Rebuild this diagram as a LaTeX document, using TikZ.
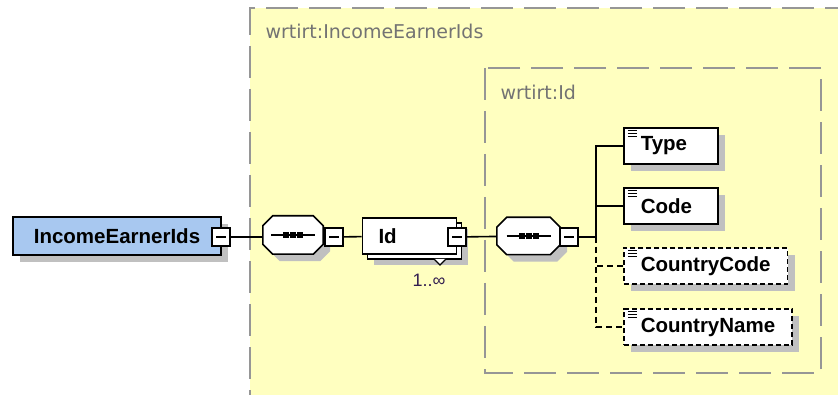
\documentclass[tikz,border=0pt]{standalone}
\usepackage{fontspec}
\setmainfont{Liberation Sans}
\newfontfamily\labelfont{DejaVu Sans}
\usetikzlibrary{shadows}

\definecolor{contfill}{RGB}{255,255,192}
\definecolor{contline}{RGB}{150,150,150}
\definecolor{rootblue}{RGB}{168,200,240}
\definecolor{shadowgray}{RGB}{192,192,192}
\definecolor{occur}{RGB}{50,30,80}

% octagon round a node: node, x offset, y offset
\newcommand{\octapath}[3]{([xshift=#2+10pt,yshift=#3]#1.north west) -- ([xshift=#2-10pt,yshift=#3]#1.north east)
  -- ([xshift=#2,yshift=#3-10pt]#1.north east) -- ([xshift=#2,yshift=#3+10pt]#1.south east)
  -- ([xshift=#2-10pt,yshift=#3]#1.south east) -- ([xshift=#2+10pt,yshift=#3]#1.south west)
  -- ([xshift=#2,yshift=#3+10pt]#1.south west) -- ([xshift=#2,yshift=#3-10pt]#1.north west) -- cycle}
\newcommand{\seqdraw}[1]{%
  \fill[fill=shadowgray] \octapath{#1}{7pt}{-7pt};
  \draw[line width=1.6pt, fill=white] \octapath{#1}{0pt}{0pt};
  \draw[line width=1.6pt] ([xshift=-22pt]#1.center) -- ([xshift=22pt]#1.center);
  \foreach \d in {-7,0,7}
    \fill ([xshift=\d pt]#1.center) ++(-3pt,-3pt) rectangle ++(6pt,6pt);
}

\tikzset{
  wire/.style={line width=1.6pt},
  optwire/.style={wire, dash pattern=on 6pt off 4pt},
  cont/.style={draw=contline, line width=1.6pt, dash pattern=on 32pt off 11pt},
  conttext/.style={anchor=base west, text=black!55, font=\labelfont\fontsize{19}{22}\selectfont},
  shade/.style={drop shadow={shadow xshift=#1, shadow yshift=-#1, opacity=1, fill=shadowgray}},
  root/.style={draw, line width=1.6pt, fill=rootblue, minimum width=208pt, minimum height=38pt,
    inner sep=0pt, font=\bfseries\fontsize{20.5}{24}\selectfont, shade=7pt},
  elem/.style={draw, line width=1.6pt, fill=white, minimum height=36pt, inner ysep=0pt,
    inner xsep=17pt, anchor=west, font=\bfseries\fontsize{20.5}{24}\selectfont, shade=7pt,
    path picture={
      \foreach \k in {0,1,2}
        \draw[solid, line width=1pt] ([xshift=4pt, yshift={-(3+3*\k)*1pt}]path picture bounding box.north west) -- ++(9pt,0pt);
    }},
  optelem/.style={elem, dash pattern=on 5pt off 3pt},
  multi/.style={draw, line width=1.6pt, fill=white, minimum height=36pt, inner ysep=0pt,
    inner xsep=16pt, font=\bfseries\fontsize{20.5}{24}\selectfont, shade=11pt,
    copy shadow={shadow xshift=5pt, shadow yshift=-5pt, draw=black, fill=white, line width=1.6pt}},
  seq/.style={minimum width=60pt, minimum height=38pt, inner sep=0pt},
  mbox/.style={draw, line width=1.3pt, fill=white, minimum size=18pt, inner sep=0pt,
    path picture={
      \draw[line width=1.3pt] ([xshift=-5pt]path picture bounding box.center) -- ([xshift=5pt]path picture bounding box.center);
    }}
}

\begin{document}
\begin{tikzpicture}[x=1pt, y=-1pt]
        \clip (0,0) rectangle (838,395);
        \fill[white] (0,0) rectangle (838,395);
        % containers
        \fill[contfill] (250,8) rectangle (900,420);
        \draw[cont] (900,8) -- (250,8) -- (250,420);
        \draw[cont, fill=contfill] (485,68) rectangle (821,373);
        \node[conttext] (L1) at (262,39) {wrtirt:IncomeEarnerIds};
        \node[conttext] (L2) at (497,100) {wrtirt:Id};

        \node[root] (R) at (117,236) {IncomeEarnerIds\hspace{9pt}};
        \node[mbox] (M0) at (221,237) {};
        \node[seq] (S1) at (293,235) {};
        \seqdraw{S1}
        \node[mbox] (M1) at (334,237) {};
        \node[multi] (Id) at (409.5,236) {\makebox[62pt][l]{Id}};
        \node[mbox] (M2) at (457,237) {};
        \draw[line width=1.3pt, fill=white] (434,259) -- (440,265) -- (446,259);
        \node[text=occur, font=\fontsize{18}{20}\selectfont] (N) at (429,280) {1..∞};
        \node[seq, minimum width=63pt, minimum height=37pt] (S2) at (528.5,236) {};
        \seqdraw{S2}
        \node[mbox] (M3) at (569,237) {};
        \coordinate (B) at (596,237);

        \node[elem] (T) at (623,146) {\makebox[60pt][l]{Type}};
        \node[elem] (C) at (623,206) {\makebox[60pt][l]{Code}};
        \node[optelem] (CC) at (623,266) {CountryCode};
        \node[optelem] (CN) at (623,327) {CountryName};

        \draw[wire] (M0) -- (M0 -| S1.west);
        \draw[wire] (M1) -- (Id);
        \draw[wire] (M2) -- (S2);
        \draw[wire] (M3) -- (B);
        \draw[wire] (B) |- (T);
        \draw[wire] (B) |- (C);
        \draw[optwire] (B) |- (CC);
        \draw[optwire] (B) |- (CN);
      \end{tikzpicture}
\end{document}
